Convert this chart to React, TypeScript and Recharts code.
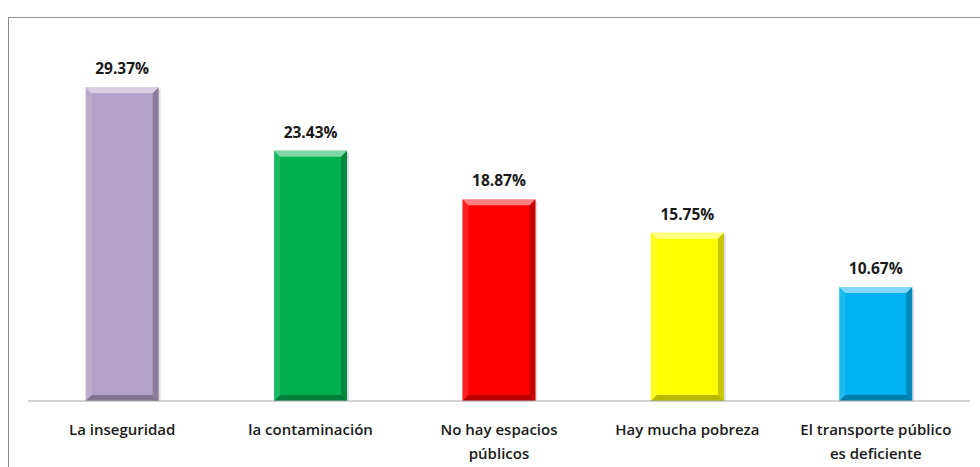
import { Bar, BarChart, Cell, LabelList, XAxis, YAxis } from "recharts"

const categories = [
  "La inseguridad",
  "la contaminación",
  "No hay espacios públicos",
  "Hay mucha pobreza",
  "El transporte público es deficiente",
]
const percentages = [29.37, 23.43, 18.87, 15.75, 10.67]
const barColors = ["#B3A2C7", "#00B050", "#FF0000", "#FFFF00", "#00B0F0"]

const data = categories.map((name, i) => ({ name, value: percentages[i] }))

const FONT = "'Open Sans', 'DejaVu Sans', sans-serif"

// greedy word wrap, Excel-ish
function wrap(label: string, maxChars = 21) {
  const lines: string[] = []
  let cur = ""
  for (const w of label.split(" ")) {
    const next = cur ? cur + " " + w : w
    if (next.length > maxChars && cur) {
      lines.push(cur)
      cur = w
    } else {
      cur = next
    }
  }
  if (cur) lines.push(cur)
  return lines
}

const CategoryTick = ({ x, y, payload }: any) => {
  const lines = wrap(payload.value)
  return (
    <text
      x={x}
      y={y}
      textAnchor="middle"
      fontFamily={FONT}
      fontSize={15}
      fontWeight={600}
      fill="#1a1a1a"
    >
      {lines.map((l, i) => (
        <tspan key={i} x={x} dy={i === 0 ? 26 : 24}>
          {l}
        </tspan>
      ))}
    </text>
  )
}

// bar with a bevelled look like the office chart
const BevelBar = (props: any) => {
  const { x, y, width: w, height: h, fill } = props
  if (!h || h <= 0) return null
  const b = 6
  return (
    <g>
      <rect x={x + 2} y={y + 2} width={w} height={h - 2} fill="rgba(0,0,0,0.12)" />
      <rect x={x} y={y} width={w} height={h} fill={fill} />
      <polygon
        points={`${x},${y} ${x + w},${y} ${x + w - b},${y + b} ${x + b},${y + b}`}
        fill="rgba(255,255,255,0.5)"
      />
      <polygon
        points={`${x},${y} ${x + b},${y + b} ${x + b},${y + h - b} ${x},${y + h}`}
        fill="rgba(255,255,255,0.12)"
      />
      <polygon
        points={`${x + w},${y} ${x + w},${y + h} ${x + w - b},${y + h - b} ${x + w - b},${y + b}`}
        fill="rgba(0,0,0,0.22)"
      />
      <polygon
        points={`${x},${y + h} ${x + w},${y + h} ${x + w - b},${y + h - b} ${x + b},${y + h - b}`}
        fill="rgba(0,0,0,0.28)"
      />
    </g>
  )
}

const ValueLabel = ({ x, y, width, value }: any) => (
  <text
    x={x + width / 2}
    y={y - 13}
    textAnchor="middle"
    fontFamily={FONT}
    fontSize={15.5}
    fontWeight={700}
    fill="#1a1a1a"
  >
    {value.toFixed(2)}%
  </text>
)

export default function App() {
  return (
    <div
      style={{
        position: "absolute",
        left: 0,
        top: 0,
        width: 980,
        height: 467,
        overflow: "hidden",
        background: "#fff",
      }}
    >
      <div
        style={{
          position: "absolute",
          left: 8,
          top: 17,
          width: 1000,
          height: 500,
          border: "1px solid #8c8c8c",
          boxSizing: "border-box",
        }}
      />
      <div style={{ position: "absolute", left: 0, top: 0 }}>
        <BarChart
          width={980}
          height={467}
          data={data}
          margin={{ top: 27, right: 10, left: 28, bottom: 0 }}
          barCategoryGap="30.6%"
        >
          <XAxis
            dataKey="name"
            axisLine={{ stroke: "#a6a6a6", strokeWidth: 1 }}
            tickLine={false}
            tick={<CategoryTick />}
            interval={0}
            height={66}
          />
          <YAxis hide domain={[0, 35]} />
          <Bar dataKey="value" shape={<BevelBar />} isAnimationActive={false}>
            {data.map((d, i) => (
              <Cell key={d.name} fill={barColors[i]} />
            ))}
            <LabelList dataKey="value" content={<ValueLabel />} />
          </Bar>
        </BarChart>
      </div>
    </div>
  )
}
